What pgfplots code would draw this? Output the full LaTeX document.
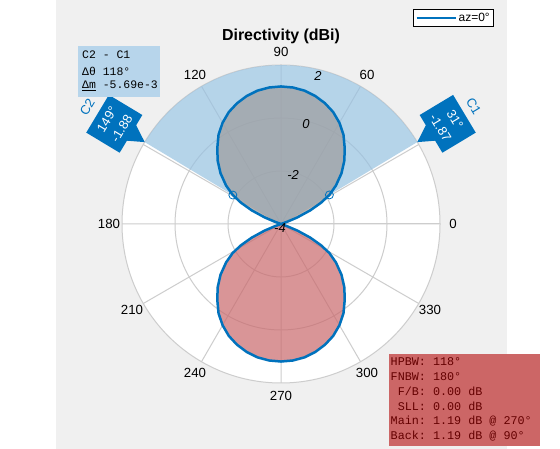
\documentclass[border=0pt]{standalone}
\usepackage{pgfplots}
\pgfplotsset{compat=1.18}
\usepackage{pgfplotstable}
\usepgfplotslibrary{polar}
\usepackage{fontspec}
\setmainfont{Liberation Sans}
\setmonofont{Liberation Mono}
\definecolor{mblue}{RGB}{0,114,189}
\definecolor{figgray}{RGB}{240,240,240}
\definecolor{gridgray}{RGB}{205,205,205}
\definecolor{secblue}{RGB}{151,194,225}
\definecolor{boxblue}{RGB}{183,213,235}
\definecolor{lobegray}{RGB}{158,156,157}
\definecolor{lobered}{RGB}{202,105,108}
\definecolor{infored}{RGB}{204,102,102}
\definecolor{infotext}{RGB}{100,0,0}

% directivity (dBi) versus azimuth angle (deg); -4 = at/below the inner limit
\pgfplotstableread{
ang D
0 -4
5 -4
10 -4
15 -4
18 -4
19 -3.98
20 -3.75
22 -3.33
25 -2.78
28 -2.29
31 -1.87
35 -1.47
40 -1.02
45 -0.62
50 -0.26
55 0.11
60 0.41
65 0.66
70 0.85
75 1.00
80 1.11
85 1.17
90 1.19
95 1.17
100 1.11
105 1.00
110 0.85
115 0.66
120 0.41
125 0.11
130 -0.26
135 -0.62
140 -1.02
145 -1.47
149 -1.88
152 -2.29
155 -2.78
158 -3.33
160 -3.75
161 -3.98
162 -4
165 -4
170 -4
175 -4
180 -4
185 -4
190 -4
195 -4
198 -4
199 -3.98
200 -3.75
202 -3.33
205 -2.78
208 -2.29
211 -1.87
215 -1.47
220 -1.02
225 -0.62
230 -0.26
235 0.11
240 0.41
245 0.66
250 0.85
255 1.00
260 1.11
265 1.17
270 1.19
275 1.17
280 1.11
285 1.00
290 0.85
295 0.66
300 0.41
305 0.11
310 -0.26
315 -0.62
320 -1.02
325 -1.47
329 -1.87
332 -2.29
335 -2.78
338 -3.33
340 -3.75
341 -3.98
342 -4
345 -4
350 -4
355 -4
360 -4
}\pattern

\newcommand{\fs}[2]{\fontsize{#1}{#2}\selectfont}

\begin{document}
\begin{tikzpicture}[x=1bp,y=1bp]
\useasboundingbox (0,0) rectangle (560,449);
\fill[white] (0,0) rectangle (560,449);
\fill[figgray] (56,0) rectangle (507,449);
\fill[white] (281,225) circle[radius=159];

\begin{polaraxis}[
  at={(281bp,225bp)}, anchor=origin,
  scale only axis, width=318bp, height=318bp,
  xmin=0, xmax=360, ymin=0, ymax=6,
  xtick={0,30,...,330}, ytick={2,4},
  xticklabels={}, yticklabels={},
  major tick length=0pt,
  grid=major,
  major grid style={draw=gridgray, line width=1bp},
  axis line style={draw=gridgray, line width=1bp},
  y filter/.expression={y+4},
  legend style={at={(1.17,1.176)}, anchor=north east, draw=black,
    line width=0.6bp, fill=white, font=\fs{12}{14},
    inner xsep=2bp, inner ysep=1.5bp},
  legend image code/.code={\draw[#1,line width=2.4bp] (0bp,0bp) -- (39bp,0bp);},
]
% cursor span C1..C2
\addplot[draw=none, fill=secblue, fill opacity=0.7, forget plot]
  coordinates {(31,-4) (31,2) (35,2) (40,2) (45,2) (50,2) (55,2) (60,2) (65,2)
  (70,2) (75,2) (80,2) (85,2) (90,2) (95,2) (100,2) (105,2) (110,2) (115,2)
  (120,2) (125,2) (130,2) (135,2) (140,2) (145,2) (149,2) (149,-4)} -- cycle;
% main lobe
\addplot[draw=none, fill=lobegray, fill opacity=0.7, forget plot,
  restrict x to domain=18:162] table[x=ang, y=D] {\pattern} -- cycle;
% back lobe
\addplot[draw=none, fill=lobered, fill opacity=0.7, forget plot,
  restrict x to domain=198:342] table[x=ang, y=D] {\pattern} -- cycle;
% pattern
\addplot[mblue, line width=2.5bp, line join=round] table[x=ang, y=D] {\pattern};
\addlegendentry{az=0°}
% cursor points
\addplot[mblue, only marks, mark=o, mark size=4bp, line width=0.8bp, forget plot]
  coordinates {(31,-1.87) (149,-1.88)};
\end{polaraxis}

% angle labels
\begin{scope}[shift={(281,225)}]
  \foreach \a in {0,60,90,120,180,210,240,270,300,330}
    \node[inner sep=0, font=\fs{13.3}{15}] at (\a:172) {\a};
  % magnitude labels
  \node[inner sep=0, font=\fs{13}{15}\itshape] at (76:153) {2};
  \node[inner sep=0, font=\fs{13}{15}\itshape] at (76:103) {0};
  \node[inner sep=0, font=\fs{13}{15}\itshape] at (76:50) {-2};
  \node[inner sep=0, font=\fs{13}{15}\itshape] at (-1,-4) {-4};
  % cursor C1
  \begin{scope}[shift={(31:159)}, rotate=-59]
    \fill[mblue] (0,0) -- (-10,16) -- (-22,16) -- (-22,55) -- (22,55) -- (22,16) -- (8,16) -- cycle;
    \node[white, transform shape, inner sep=0, font=\fs{13}{15}] at (0,44) {31°};
    \node[white, transform shape, inner sep=0, font=\fs{13}{15}] at (0,27) {-1.87};
    \node[mblue, transform shape, inner sep=0, font=\fs{13}{15}] at (-2,67) {C1};
  \end{scope}
  % cursor C2
  \begin{scope}[shift={(149:159)}, rotate=59]
    \fill[mblue] (0,0) -- (-8,16) -- (-22,16) -- (-22,55) -- (22,55) -- (22,16) -- (10,16) -- cycle;
    \node[white, transform shape, inner sep=0, font=\fs{13}{15}] at (0,44) {149°};
    \node[white, transform shape, inner sep=0, font=\fs{13}{15}] at (0,27) {-1.88};
    \node[mblue, transform shape, inner sep=0, font=\fs{13}{15}] at (0,67) {C2};
  \end{scope}
\end{scope}

% title
\node[anchor=base, inner sep=0, font=\fs{16}{18}\bfseries] at (281,408.5) {Directivity (dBi)};

% cursor difference box
\fill[boxblue] (78,352) rectangle (160,403);
\node[anchor=west, inner sep=0, font=\ttfamily\fs{11.5}{13}] at (82,394) {C2 - C1};
\node[anchor=west, inner sep=0, font=\ttfamily\fs{11.5}{13}] at (82,378) {Δθ 118°};
\node[anchor=west, inner sep=0, font=\ttfamily\fs{11.5}{13}] at (82,363) {\underline{Δm} -5.69e-3};

% antenna metrics box
\fill[infored] (389,3) rectangle (540,95);
\foreach \t [count=\i from 0] in {HPBW: 118°, FNBW: 180°, \hphantom{M}F/B: 0.00 dB,
    \hphantom{M}SLL: 0.00 dB, Main: 1.19 dB @ 270°, Back: 1.19 dB @ 90°}
  \node[anchor=west, inner sep=0, text=infotext, font=\ttfamily\fs{11.8}{13}] at (390.5,87.3-14.9*\i) {\t};
\end{tikzpicture}
\end{document}
